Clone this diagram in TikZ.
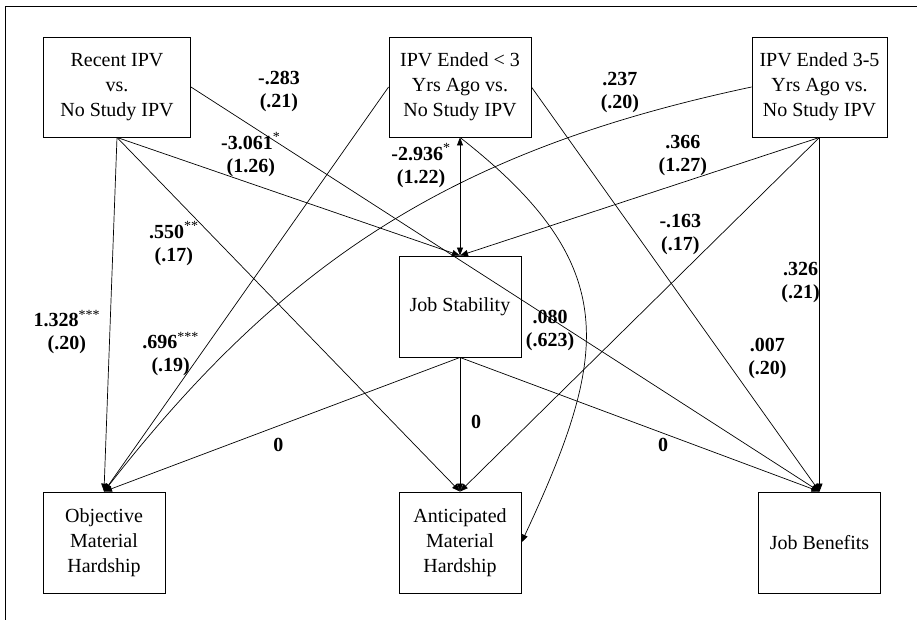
\documentclass[tikz,border=0pt]{standalone}
\usepackage{fontspec}
\setmainfont{Liberation Serif}
\usetikzlibrary{positioning, arrows.meta}

\begin{document}
\begin{tikzpicture}[x=1pt, y=1pt, on grid, line width=0.7pt,
    >={Triangle[length=8pt, width=6pt]},
    box/.style={draw, line width=0.9pt, align=center, inner sep=0pt,
      minimum width=122pt, minimum height=101pt,
      font=\fontsize{20}{25}\selectfont},
    lbl/.style={align=center, inner sep=0pt,
      font=\bfseries\fontsize{20}{23}\selectfont}]
  \useasboundingbox (-460,-533) rectangle (457,87);
  \draw[line width=0.9pt] (-455,-533) |- (457,81);

  \node[box, minimum width=142pt, minimum height=100pt] (ipv2) at (0,0) {IPV Ended < 3\\Yrs Ago vs.\\No Study IPV};
  \node[box, minimum width=147pt, minimum height=100pt] (ipv1) [left=343pt of ipv2] {Recent IPV\\vs.\\No Study IPV};
  \node[box, minimum width=135pt, minimum height=100pt] (ipv3) [right=359.5pt of ipv2] {IPV Ended 3-5\\Yrs Ago vs.\\No Study IPV};
  \node[box] (stab) [below=219.5pt of ipv2] {Job Stability};
  \node[box] (anth) [below=236pt of stab] {Anticipated\\Material\\Hardship};
  \node[box] (objh) [left=356pt of anth] {Objective\\Material\\Hardship};
  \node[box] (ben) [right=359.5pt of anth] {Job Benefits};

  \path[->]
  (ipv1.south) edge node[lbl, pos=.55, xshift=-43pt] {1.328\textsuperscript{\mdseries ***}\\(.20)} (objh.north)
  (ipv1.south) edge node[lbl, pos=.30, xshift=-46pt] {.550\textsuperscript{\mdseries **}\\(.17)} (anth.north)
  (ipv1.south) edge node[lbl, pos=.39, yshift=29pt] {-3.061\textsuperscript{\mdseries *}\\(1.26)} (stab.north)
  (ipv1.east) edge node[lbl, pos=.14, yshift=52pt] {-.283\\(.21)} (ben.north)
  (ipv2.west) edge node[lbl, pos=.66, xshift=-30pt] {.696\textsuperscript{\mdseries ***}\\(.19)} (objh.north)
  (ipv2.south) edge[<->] node[lbl, pos=.24, xshift=-39pt] {-2.936\textsuperscript{\mdseries *}\\(1.22)} (stab.north)
  (ipv2.east) edge node[lbl, pos=.67, xshift=43pt] {.007\\(.20)} (ben.north)
  (ipv2.south) edge[out=-38, in=65, looseness=1.3] node[lbl, pos=.5, xshift=-35pt, yshift=-13pt] {.080\\(.623)} (anth.east)
  (ipv3.west) edge[bend right=20] node[lbl, pos=.16, yshift=28pt] {.237\\(.20)} (objh.north)
  (ipv3.south) edge node[lbl, pos=.38, yshift=27pt] {.366\\(1.27)} (stab.north)
  (ipv3.south) edge node[lbl, pos=.387, yshift=40pt] {-.163\\(.17)} (anth.north)
  (ipv3.south) edge node[lbl, pos=.41, xshift=-19pt] {.326\\(.21)} (ben.north)
  (stab.south) edge node[lbl, pos=.51, yshift=-19pt] {0} (objh.north)
  (stab.south) edge node[lbl, pos=.48, xshift=16pt] {0} (anth.north)
  (stab.south) edge node[lbl, pos=.565, yshift=-12pt] {0} (ben.north)
  ;
\end{tikzpicture}
\end{document}
